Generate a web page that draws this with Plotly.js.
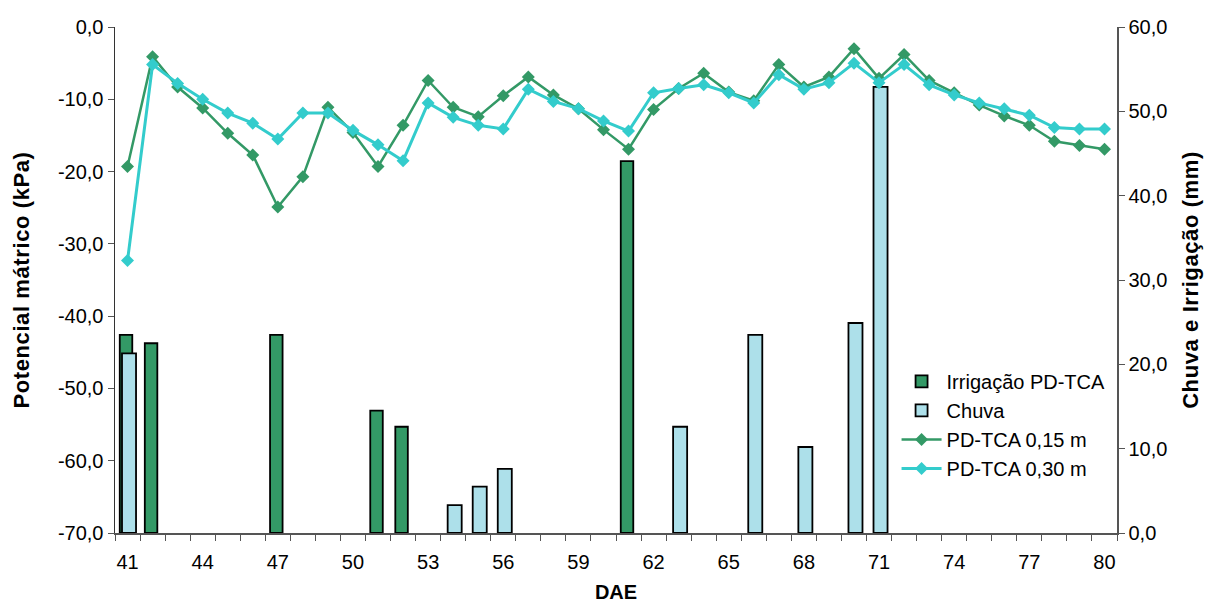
<!DOCTYPE html>
<html>
<head>
<meta charset="utf-8">
<script src="https://cdn.plot.ly/plotly-3.0.1.min.js"></script>
<style>
  html, body { margin: 0; padding: 0; background: #fff; }
  #chart { width: 1209px; height: 603px; }
  text.ytitle, text.y2title { letter-spacing: 0.6px; }
</style>
</head>
<body>
<div id="chart"></div>
<script>
// ---- data ----
const days = [41,42,43,44,45,46,47,48,49,50,51,52,53,54,55,56,57,58,59,60,
              61,62,63,64,65,66,67,68,69,70,71,72,73,74,75,76,77,78,79,80];
const pd015 = [-19.3,-4.1,-8.3,-11.2,-14.7,-17.7,-24.9,-20.7,-11.1,-14.6,
               -19.3,-13.6,-7.4,-11.1,-12.4,-9.5,-6.9,-9.4,-11.3,-14.2,
               -16.9,-11.4,-8.5,-6.4,-9.0,-10.2,-5.2,-8.3,-6.9,-3.0,
               -7.1,-3.8,-7.4,-9.1,-10.8,-12.3,-13.6,-15.8,-16.4,-16.9];
const pd030 = [-32.3,-5.2,-7.8,-10.0,-11.9,-13.3,-15.5,-11.9,-11.9,-14.3,
               -16.3,-18.5,-10.5,-12.5,-13.6,-14.1,-8.6,-10.3,-11.3,-13.0,
               -14.4,-9.1,-8.5,-8.0,-9.1,-10.5,-6.6,-8.6,-7.7,-5.0,
               -7.7,-5.2,-8.0,-9.4,-10.5,-11.3,-12.2,-13.9,-14.1,-14.1];
const irrDays = [41,42,47,51,52,61];
const irrVals = [23.5,22.5,23.5,14.5,12.6,44.1];
const rainDays = [41,54,55,56,63,66,68,70,71];
const rainVals = [21.3,3.3,5.5,7.6,12.6,23.5,10.2,24.9,52.9];
const xTickVals = [41,44,47,50,53,56,59,62,65,68,71,74,77,80];
const leftTickVals = [-70,-60,-50,-40,-30,-20,-10,0];
const leftTickText = ["-70,0","-60,0","-50,0","-40,0","-30,0","-20,0","-10,0","0,0"];
const rightTickVals = [0,10,20,30,40,50,60];
const rightTickText = ["0,0","10,0","20,0","30,0","40,0","50,0","60,0"];

const green = '#339966';
const cyan = '#33CCCC';
const rainFill = '#ADE0EA';
const FONT = 'Liberation Sans, Arial, sans-serif';

const traces = [
  { type: 'bar', name: 'Irrigação PD-TCA', x: irrDays, y: irrVals,
    xaxis: 'x', yaxis: 'y', width: 0.5, offset: -0.31,
    marker: { color: green, line: { color: '#000', width: 1.8 } } },
  { type: 'bar', name: 'Chuva', x: rainDays, y: rainVals,
    xaxis: 'x', yaxis: 'y', width: 0.56, offset: -0.22,
    marker: { color: rainFill, line: { color: '#000', width: 1.8 } } },
  { type: 'scatter', mode: 'lines+markers', name: 'PD-TCA 0,15 m', x: days, y: pd015,
    xaxis: 'x', yaxis: 'y2',
    line: { color: green, width: 2.5 },
    marker: { symbol: 'diamond', size: 10, color: green } },
  { type: 'scatter', mode: 'lines+markers', name: 'PD-TCA 0,30 m', x: days, y: pd030,
    xaxis: 'x', yaxis: 'y2',
    line: { color: cyan, width: 3 },
    marker: { symbol: 'diamond', size: 10, color: cyan } }
];

const layout = {
  width: 1209, height: 603,
  margin: { l: 115, r: 92, t: 27, b: 70 },
  paper_bgcolor: '#fff', plot_bgcolor: '#fff',
  font: { family: FONT, size: 20, color: '#000' },
  barmode: 'overlay',
  showlegend: true,
  legend: {
    x: 0.78, xanchor: 'left', y: 0.338, yanchor: 'top',
    bgcolor: 'rgba(255,255,255,0)', borderwidth: 0,
    font: { family: FONT, size: 20, color: '#000' },
    tracegroupgap: 0, itemwidth: 40
  },
  xaxis: {
    range: [40.5, 80.5], showgrid: false, zeroline: false,
    showline: true, linecolor: '#555', linewidth: 1.5,
    tickmode: 'array', tickvals: xTickVals, ticktext: xTickVals.map(String),
    ticks: '', ticklen: 0, ticklabelstandoff: 10,
    minor: { tickmode: 'linear', tick0: 40.5, dtick: 1, ticks: 'outside', ticklen: 6, tickcolor: '#555', tickwidth: 1, showgrid: false },
    tickfont: { family: FONT, size: 20 },
    title: { text: '<b>DAE</b>', font: { family: FONT, size: 20 }, standoff: 20 }
  },
  yaxis: {
    side: 'right', range: [0, 60], showgrid: false, zeroline: false,
    showline: true, linecolor: '#555', linewidth: 1.5,
    tickmode: 'array', tickvals: rightTickVals, ticktext: rightTickText,
    ticks: 'outside', ticklen: 6, tickcolor: '#555',
    tickfont: { family: FONT, size: 20 },
    title: { text: '<b>Chuva e Irrigação (mm)</b>', font: { family: FONT, size: 22 }, standoff: 16 }
  },
  yaxis2: {
    side: 'left', overlaying: 'y', range: [-70, 0], showgrid: false, zeroline: false,
    showline: true, linecolor: '#333', linewidth: 1.5,
    tickmode: 'array', tickvals: leftTickVals, ticktext: leftTickText,
    ticks: 'outside', ticklen: 6, tickcolor: '#555',
    tickfont: { family: FONT, size: 20 },
    title: { text: '<b>Potencial mátrico (kPa)</b>', font: { family: FONT, size: 22 }, standoff: 22 }
  }
};

Plotly.newPlot('chart', traces, layout, { displayModeBar: false, staticPlot: true });
</script>
</body>
</html>
